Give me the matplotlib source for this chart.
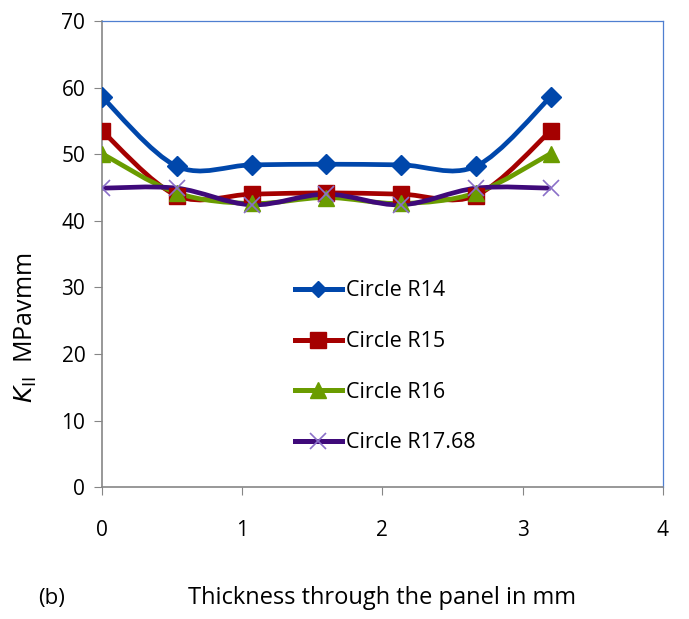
import matplotlib

matplotlib.use("Agg")
import matplotlib.pyplot as plt
from matplotlib.path import Path
from matplotlib.patches import PathPatch
from matplotlib.lines import Line2D

plt.rcParams["font.family"] = ["Open Sans", "DejaVu Sans"]

thickness = [0, 0.533, 1.067, 1.6, 2.133, 2.667, 3.2]
r14 = [58.6, 48.2, 48.4, 48.5, 48.4, 48.2, 58.6]
r15 = [53.5, 43.8, 44.0, 44.2, 44.0, 43.8, 53.5]
r16 = [50.1, 44.2, 42.6, 43.5, 42.6, 44.2, 50.1]
r1768 = [44.9, 44.9, 42.4, 44.0, 42.4, 44.9, 44.9]
labels = ["Circle R14", "Circle R15", "Circle R16", "Circle R17.68"]

# colour, marker, plot size, legend size
styles = [
    ("#0047AB", "D", 10, 8),
    ("#A50000", "s", 11, 11),
    ("#6A9C00", "^", 11, 11),
    ("#3F0A7A", "x", 12, 11),
]


def smooth_path(xs, ys):
    # Excel-style smoothed line: cubic Bezier through each point
    verts = [(xs[0], ys[0])]
    codes = [Path.MOVETO]
    n = len(xs)
    for i in range(n - 1):
        x0, y0 = (xs[i - 1], ys[i - 1]) if i > 0 else (xs[i], ys[i])
        x3, y3 = (xs[i + 2], ys[i + 2]) if i + 2 < n else (xs[i + 1], ys[i + 1])
        c1 = (xs[i] + (xs[i + 1] - x0) / 6, ys[i] + (ys[i + 1] - y0) / 6)
        c2 = (xs[i + 1] - (x3 - xs[i]) / 6, ys[i + 1] - (y3 - ys[i]) / 6)
        verts += [c1, c2, (xs[i + 1], ys[i + 1])]
        codes += [Path.CURVE4] * 3
    return Path(verts, codes)


fig = plt.figure(figsize=(6.89, 6.19), dpi=100)
ax = fig.add_axes([0.148, 0.213, 0.814, 0.753])

handles = []
for ys, (color, marker, ms, lms), label in zip([r14, r15, r16, r1768], styles, labels):
    ax.add_patch(PathPatch(smooth_path(thickness, ys), facecolor="none",
                           edgecolor=color, linewidth=3.4, zorder=2))
    mew = 1.2 if marker == "x" else 1
    mc = "#8A6FC8" if marker == "x" else color
    ax.plot(thickness, ys, linestyle="none", marker=marker, markersize=ms,
            color=mc, markeredgewidth=mew, zorder=3)
    handles.append(Line2D([], [], color=color, linewidth=3.6, marker=marker,
                          markersize=lms, markerfacecolor=mc, markeredgecolor=mc,
                          markeredgewidth=mew))

ax.set_xlim(0, 4)
ax.set_ylim(0, 70)
ax.set_xticks([0, 1, 2, 3, 4])
ax.set_yticks(range(0, 71, 10))

for side in ["left", "bottom"]:
    ax.spines[side].set_color("#868686")
    ax.spines[side].set_linewidth(1.2)
for side in ["top", "right"]:
    ax.spines[side].set_color("#4F7FD0")
    ax.spines[side].set_linewidth(0.9)

ax.tick_params(axis="y", direction="out", length=6, color="#868686",
               labelsize=15, pad=6)
ax.tick_params(axis="x", direction="out", length=6, color="#868686",
               labelsize=15, pad=18)

ax.set_ylabel(r"$K_{\rm II}$  MPavmm", fontsize=18)
ax.yaxis.set_label_coords(-0.113, 0.341)

leg = ax.legend(handles, labels, loc="center", bbox_to_anchor=(0.505, 0.258),
                frameon=False, fontsize=15.5, handlelength=2.2, handletextpad=0.2,
                labelspacing=1.38)

fig.text(0.055, 0.025, "(b)", fontsize=16)
fig.text(0.554, 0.025, "Thickness through the panel in mm", fontsize=17,
         ha="center")

fig.savefig("out.png", dpi=100)
